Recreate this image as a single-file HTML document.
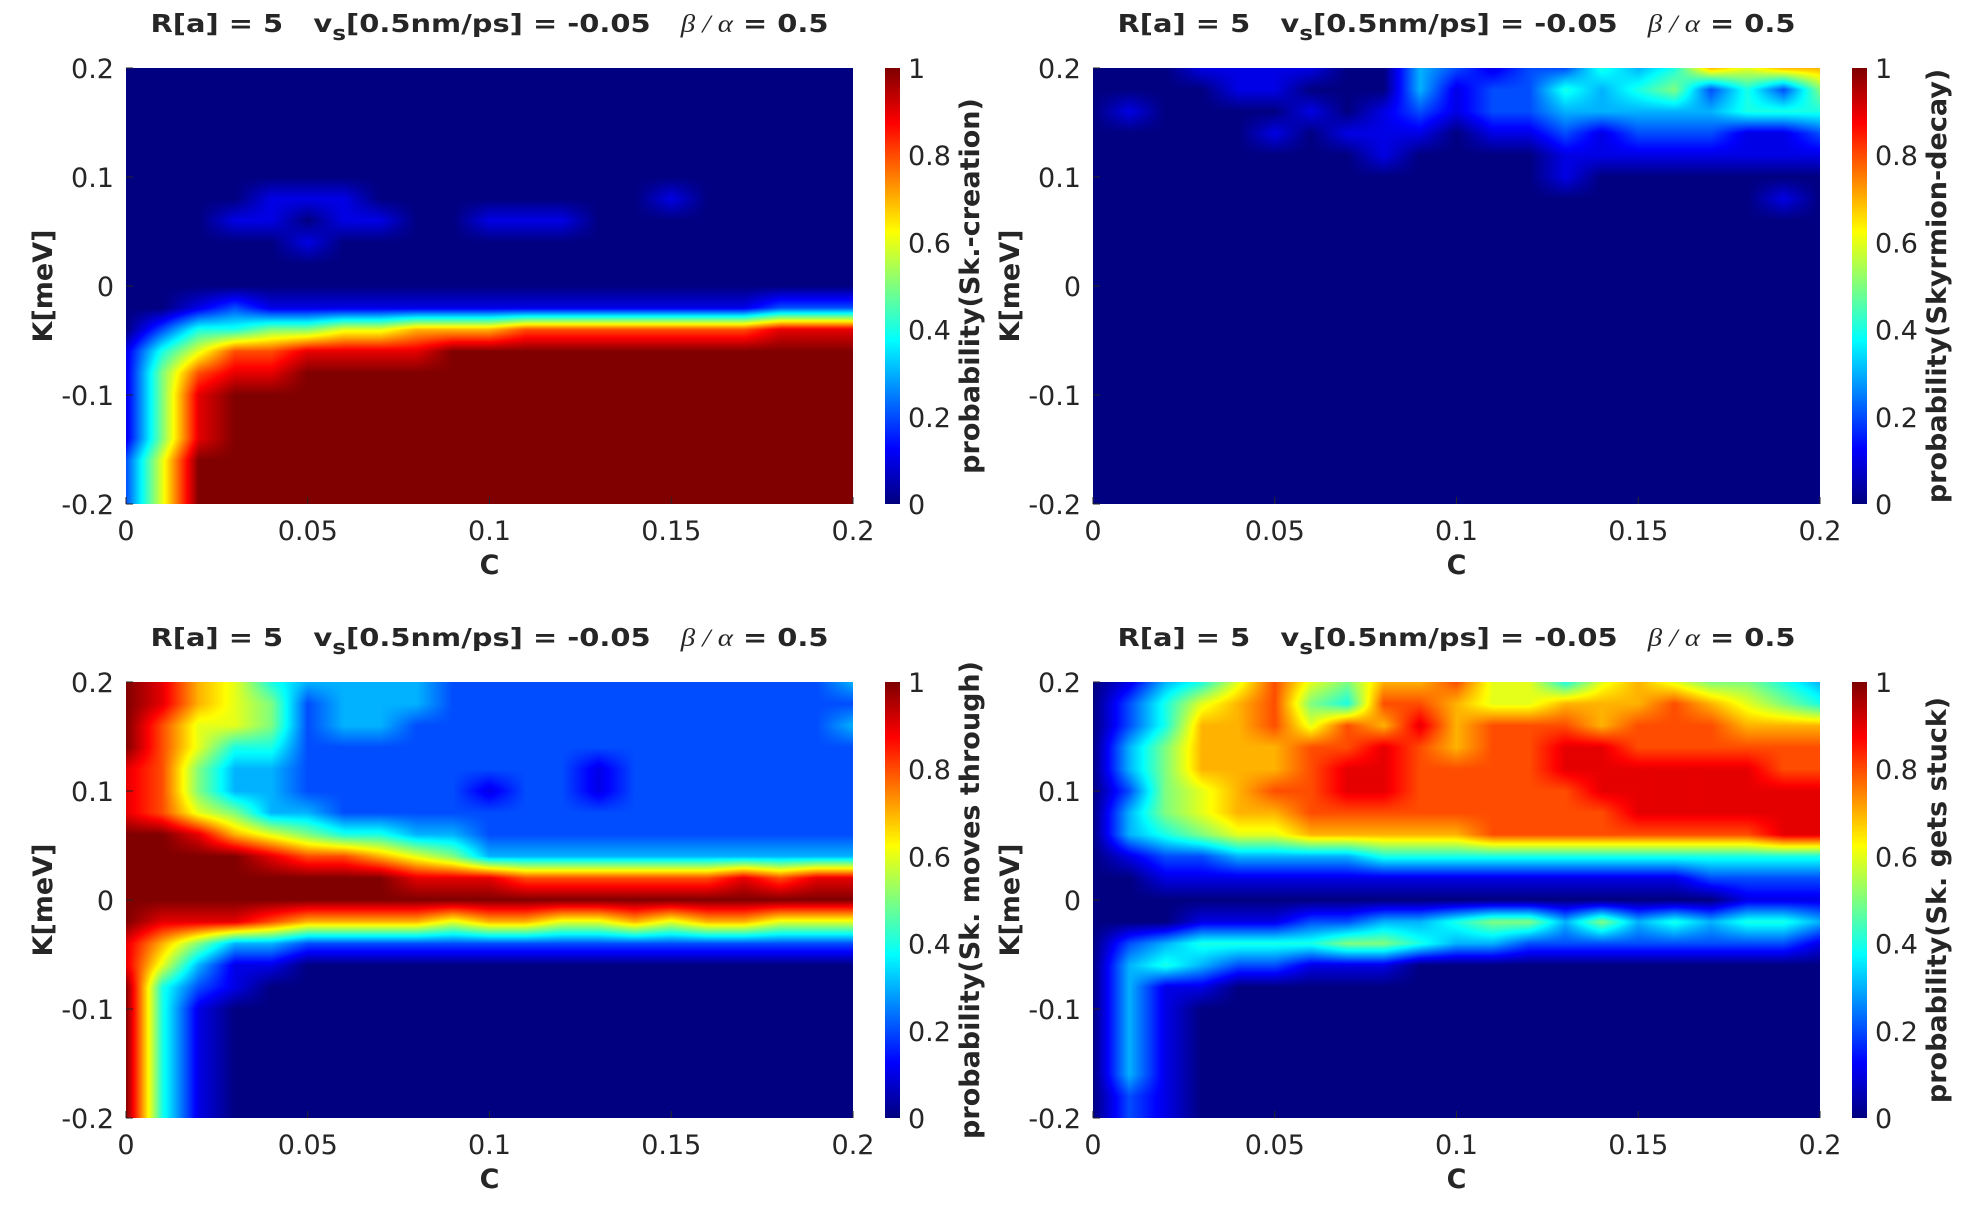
<!DOCTYPE html>
<html><head><meta charset="utf-8"><style>
html,body{margin:0;padding:0;background:#fff;}
#wrap{position:relative;width:1972px;height:1214px;overflow:hidden;}
canvas{position:absolute;}
svg{position:absolute;left:0;top:0;}
text{font-family:"DejaVu Sans","Liberation Sans",sans-serif;fill:#262626;}
</style></head><body>
<div id="wrap">
<svg id="svg" width="1972" height="1214"></svg>
</div>
<script>
// grid coordinates
const cValues = [0,0.01,0.02,0.03,0.04,0.05,0.06,0.07,0.08,0.09,0.1,0.11,0.12,0.13,0.14,0.15,0.16,0.17,0.18,0.19,0.2];
const kValues = [0.2,0.18,0.16,0.14,0.12,0.1,0.08,0.06,0.04,0.02,0,-0.02,-0.04,-0.06,-0.08,-0.1,-0.12,-0.14,-0.16,-0.18,-0.2];
const xTickLabels = ["0","0.05","0.1","0.15","0.2"];
const xTickValues = [0,0.05,0.1,0.15,0.2];
const yTickLabels = ["-0.2","-0.1","0","0.1","0.2"];
const yTickValues = [-0.2,-0.1,0,0.1,0.2];
const cbTickLabels = ["0","0.2","0.4","0.6","0.8","1"];
const cbTickValues = [0,0.2,0.4,0.6,0.8,1];
// rows from K=0.2 (top) to K=-0.2; each char = probability*10, X = 1.0
const creationRows = [
"000000000000000000000","000000000000000000000","000000000000000000000","000000000000000000000",
"000000000000000000000","000000000000000000000","000011100000000100000","000110110011100000000",
"000001000000000000000","000000000000000000000","000000000000000000000","001211111111111111222",
"024455667778888888999","146889999XXXXXXXXXXXX","15899XXXXXXXXXXXXXXXX","159XXXXXXXXXXXXXXXXXX",
"159XXXXXXXXXXXXXXXXXX","159XXXXXXXXXXXXXXXXXX","26XXXXXXXXXXXXXXXXXXX","26XXXXXXXXXXXXXXXXXXX",
"26XXXXXXXXXXXXXXXXXXX"];
const decayRows = [
"000111100321224347677","000011000312243452425","010000101212233333444","000001011101121222112",
"000000001000011111111","000000000000010000000","000000000000000000010","000000000000000000000",
"000000000000000000000","000000000000000000000","000000000000000000000","000000000000000000000",
"000000000000000000000","000000000000000000000","000000000000000000000","000000000000000000000",
"000000000000000000000","000000000000000000000","000000000000000000000","000000000000000000000",
"000000000000000000000"];
const throughRows = [
"X97643333222222222223","X97652333222222222222","X86652332222222222223","X86442222222222222222",
"985332222222212222222","985332222212212222222","986533222222222222222","XX9765443322222222222",
"XXXX98876533333333333","XXXXXXXX9998888889899","XXXXXXXXXXXXXXXXXXXXX","X99987777677667677666",
"975332222222222222222","963110000000000000000","X42100000000000000000","X41000000000000000000",
"X41000000000000000000","X41000000000000000000","X41000000000000000000","X41000000000000000000",
"X41000000000000000000"];
const stuckRows = [
"013468657786646765543","024678548876677787654","024778687978887888777","035777889878899888888",
"035777899888899999988","025678899888889999999","035677888888888999999","034566777778888888899",
"012233334444444444444","001111111111111112222","000000000000000000111","000111223345535343443",
"023444455433222222221","034322111000000000000","031100000000000000000","031000000000000000000",
"031000000000000000000","031000000000000000000","031000000000000000000","021000000000000000000",
"021000000000000000000"];

const W=727,H=436;
const panels=[
 {rows:creationRows,x:126,y:68,label:"probability(Sk.-creation)",name:"creation"},
 {rows:decayRows,x:1093,y:68,label:"probability(Skyrmion-decay)",name:"decay"},
 {rows:throughRows,x:126,y:682,label:"probability(Sk. moves through)",name:"moves-through"},
 {rows:stuckRows,x:1093,y:682,label:"probability(Sk. gets stuck)",name:"gets-stuck"}];

function jet(v){
  v=Math.max(0,Math.min(1,v));
  const f=t=>Math.max(0,Math.min(1,t));
  const r=f(1.5-Math.abs(4*v-3)), g=f(1.5-Math.abs(4*v-2)), b=f(1.5-Math.abs(4*v-1));
  return [r*255,g*255,b*255];
}
function parseRows(rows){return rows.map(r=>r.split('').map(ch=>ch==='X'?1:parseInt(ch,10)/10));}
const xScale=(c,p)=>p.x+(c-0)/(0.2)*W;
const yScale=(k,p)=>p.y+(0.2-k)/0.4*H;

const svg=document.getElementById('svg');
const NS="http://www.w3.org/2000/svg";
function txt(x,y,s,opt){
  const t=document.createElementNS(NS,'text');
  t.setAttribute('x',x);t.setAttribute('y',y);
  for(const k in opt){ if(k!=='name') t.setAttribute(k,opt[k]); }
  t.textContent=s;
  
  
  svg.appendChild(t);return t;
}
function line(x1,y1,x2,y2,name){
  const l=document.createElementNS(NS,'line');
  l.setAttribute('x1',x1);l.setAttribute('y1',y1);l.setAttribute('x2',x2);l.setAttribute('y2',y2);
  l.setAttribute('stroke','#262626');l.setAttribute('stroke-width','1');
  
  
  svg.appendChild(l);
}
const wrap=document.getElementById('wrap');
panels.forEach(p=>{
  const grid=parseRows(p.rows);
  const nx=cValues.length, ny=kValues.length;
  const cv=document.createElement('canvas');
  cv.width=W;cv.height=H;cv.style.left=p.x+'px';cv.style.top=p.y+'px';
  
  
  wrap.insertBefore(cv,svg);
  const ctx=cv.getContext('2d');const img=ctx.createImageData(W,H);
  const cMin=cValues[0],cMax=cValues[nx-1],kMax=kValues[0],kMin=kValues[ny-1];
  for(let py=0;py<H;py++){
    const k=kMax-(py+0.5)/H*(kMax-kMin);
    const fy=(kMax-k)/(kMax-kMin)*(ny-1);
    const j=Math.min(ny-2,Math.floor(fy)),ty=fy-j;
    for(let px=0;px<W;px++){
      const c=cMin+(px+0.5)/W*(cMax-cMin);
      const fx=(c-cMin)/(cMax-cMin)*(nx-1);
      const i=Math.min(nx-2,Math.floor(fx)),tx=fx-i;
      const v=(grid[j][i]*(1-tx)+grid[j][i+1]*tx)*(1-ty)+(grid[j+1][i]*(1-tx)+grid[j+1][i+1]*tx)*ty;
      const col=jet(v);const o=(py*W+px)*4;
      img.data[o]=col[0];img.data[o+1]=col[1];img.data[o+2]=col[2];img.data[o+3]=255;
    }
  }
  ctx.putImageData(img,0,0);
  // colorbar
  const cb=document.createElement('canvas');
  cb.width=15;cb.height=H;cb.style.left=(p.x+759)+'px';cb.style.top=p.y+'px';
  
  
  wrap.insertBefore(cb,svg);
  const cctx=cb.getContext('2d');
  for(let py=0;py<H;py++){const col=jet(1-py/(H-1));cctx.fillStyle=`rgb(${col[0]|0},${col[1]|0},${col[2]|0})`;cctx.fillRect(0,py,15,1);}
  // title
  const t=document.createElementNS(NS,'text');
  t.setAttribute('x',p.x+W/2);t.setAttribute('y',p.y-36);t.setAttribute('text-anchor','middle');
  t.setAttribute('font-size','25');t.setAttribute('font-weight','bold');
  t.setAttribute('textLength','678');t.setAttribute('lengthAdjust','spacingAndGlyphs');
  
  
  t.innerHTML='R[a] = 5 \u00a0 v<tspan font-size="20" dy="8">s</tspan><tspan dy="-8">[0.5nm/ps] = -0.05 \u00a0 </tspan><tspan font-weight="normal" font-style="italic" font-family="Liberation Serif, serif">β / α</tspan><tspan> = 0.5</tspan>';
  svg.appendChild(t);
  // x ticks
  xTickValues.forEach((v,i)=>{
    const x=xScale(v,p);
    line(x,p.y+H,x,p.y+H-7,'x-tick');
    txt(x,p.y+H+36,xTickLabels[i],{'text-anchor':'middle','font-size':'27',name:'x-tick-label'});
  });
  yTickValues.forEach((v,i)=>{
    const y=yScale(v,p);
    line(p.x,y,p.x+7,y,'y-tick');
    txt(p.x-12,y+10,yTickLabels[i],{'text-anchor':'end','font-size':'27',name:'y-tick-label'});
  });
  cbTickValues.forEach((v,i)=>{
    const y=p.y+H-v*H;
    txt(p.x+782,y+10,cbTickLabels[i],{'text-anchor':'start','font-size':'27',name:'colorbar-tick-label'});
  });
  txt(p.x+W/2,p.y+H+70,'C',{'text-anchor':'middle','font-size':'27','font-weight':'bold',name:'x-axis-title'});
  txt(0,0,'K[meV]',{'text-anchor':'middle','font-size':'27','font-weight':'bold',
    transform:`translate(${p.x-74},${p.y+H/2}) rotate(-90)`,name:'y-axis-title'});
  txt(0,0,p.label,{'text-anchor':'middle','font-size':'27','font-weight':'bold',
    transform:`translate(${p.x+853},${p.y+H/2}) rotate(-90)`,name:'colorbar-title'});
});
</script>
</body></html>
